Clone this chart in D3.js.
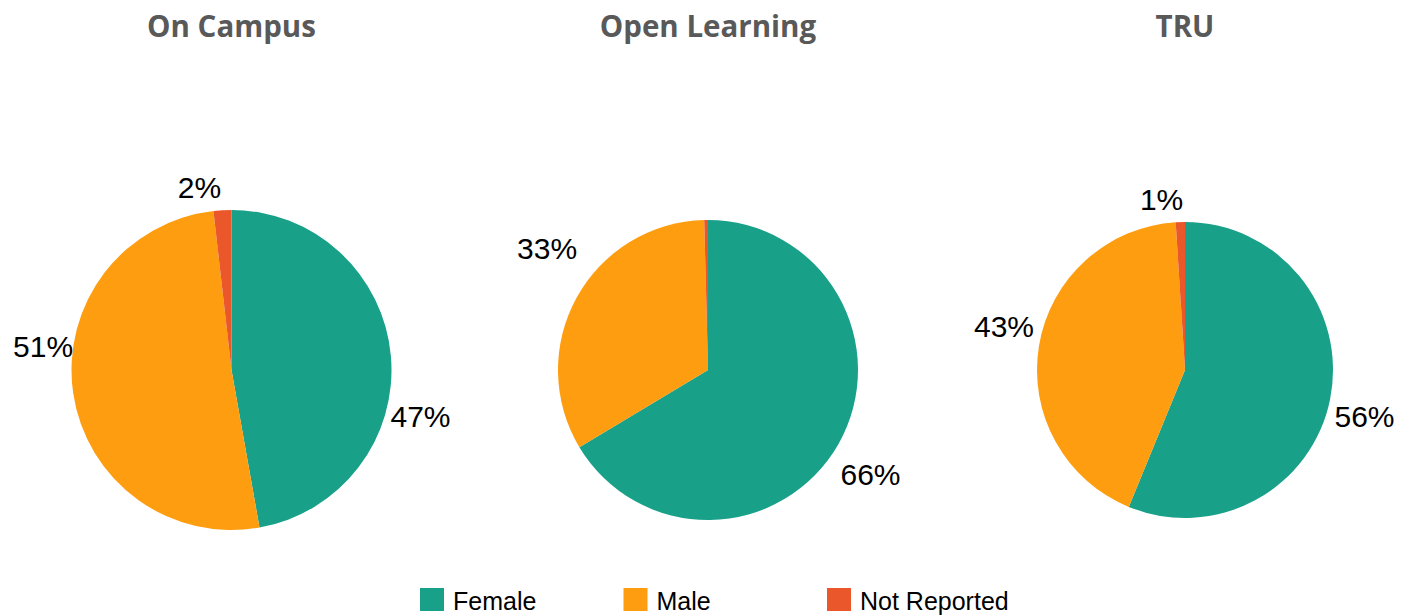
<!DOCTYPE html>
<html>
<head>
<meta charset="utf-8">
<script src="https://cdn.jsdelivr.net/npm/d3@7"></script>
<style>
  html, body { margin: 0; padding: 0; background: #ffffff; }
  svg { display: block; }
</style>
</head>
<body>
<svg id="chart" width="1416" height="616"></svg>
<script>
// ---- data ----
const categories = ["Female", "Male", "Not Reported"];
const chartTitles = ["On Campus", "Open Learning", "TRU"];
const onCampusValues = [47.2, 51.0, 1.8];
const openLearningValues = [66.4, 33.2, 0.4];
const truValues = [56.2, 42.8, 1.0];
const seriesValues = [onCampusValues, openLearningValues, truValues];

// ---- layout / style ----
const colors = ["#18a089", "#fe9d10", "#e9572b"];
const W = 1416, H = 616;
const pieLayout = [
  { cx: 231.5, cy: 370, r: 160, shift: [18.7, 15.6, -6.7], pad: [34.5, 30, 25.8] },
  { cx: 708,   cy: 370, r: 150, shift: [3.0, 8.4, 0],     pad: [42.7, 52, 30] },
  { cx: 1185,  cy: 370, r: 148, shift: [3.2, 4.3, -6.0],  pad: [37.3, 38.3, 24.6] }
];
const legendX0 = 420, legendStep = 203.5, legendY = 588;

const svg = d3.select("#chart");
const color = d3.scaleOrdinal().domain(categories).range(colors);
const pie = d3.pie().sort(null).value(d => d.value);

seriesValues.forEach((vals, i) => {
  const L = pieLayout[i];
  const g = svg.append("g").attr("transform", `translate(${L.cx},${L.cy})`);
  const data = categories.map((c, k) => ({ cat: c, value: vals[k], k }));
  const arcs = pie(data);
  const arc = d3.arc().innerRadius(0).outerRadius(L.r);

  g.selectAll("path").data(arcs).enter().append("path")
    .attr("d", arc)
    .attr("fill", d => color(d.data.cat));

  g.selectAll("text.lbl").data(arcs.filter(d => d.data.value >= 0.5)).enter()
    .append("text").attr("class", "lbl")
    .attr("text-anchor", "middle")
    .attr("font-family", "Liberation Sans, Arial, sans-serif")
    .attr("font-size", 30)
    .attr("fill", "#000")
    .attr("x", d => {
      const a = (d.startAngle + d.endAngle) / 2 + L.shift[d.data.k] * Math.PI / 180;
      return Math.sin(a) * (L.r + L.pad[d.data.k]);
    })
    .attr("y", d => {
      const a = (d.startAngle + d.endAngle) / 2 + L.shift[d.data.k] * Math.PI / 180;
      return -Math.cos(a) * (L.r + L.pad[d.data.k]) + 11;
    })
    .text(d => Math.round(d.data.value) + "%");

  svg.append("text")
    .attr("x", L.cx).attr("y", 37)
    .attr("text-anchor", "middle")
    .attr("font-family", "Open Sans, DejaVu Sans, sans-serif")
    .attr("font-weight", "bold")
    .attr("font-size", 29.5)
    .attr("fill", "#595959")
    .text(chartTitles[i]);
});

const legend = svg.append("g");
categories.forEach((c, k) => {
  const x = legendX0 + k * legendStep;
  legend.append("rect").attr("x", x).attr("y", legendY).attr("width", 24).attr("height", 23)
    .attr("fill", color(c));
  legend.append("text").attr("x", x + 33).attr("y", legendY + 22)
    .attr("font-family", "Liberation Sans, Arial, sans-serif")
    .attr("font-size", 25)
    .attr("fill", "#000")
    .text(c);
});
</script>
</body>
</html>
